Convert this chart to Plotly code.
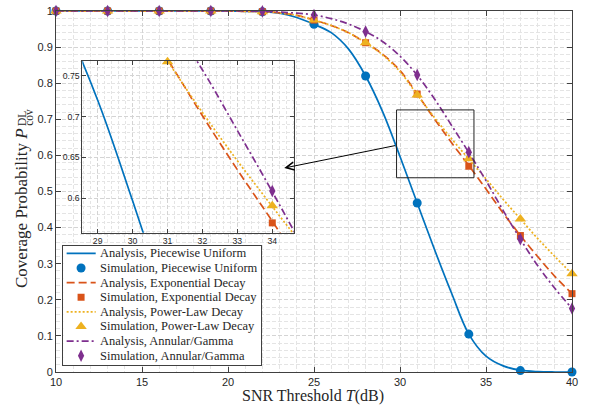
import plotly.graph_objects as go

# ---------------------------------------------------------------------------
# Data: downlink coverage probability vs. SNR threshold
# ---------------------------------------------------------------------------
snr_analysis = [10, 11, 12, 13, 14, 15, 16, 17, 18, 19, 20, 21, 22, 23, 24, 25,
                26, 27, 28, 29, 30, 31, 32, 33, 34, 35, 36, 37, 38, 39, 40]
snr_sim = [10, 13, 16, 19, 22, 25, 28, 31, 34, 37, 40]

pu_analysis = [1.0, 1.0, 1.0, 1.0, 1.0, 1.0, 1.0, 1.0, 1.0, 1.0, 1.0, 0.999,
               0.998, 0.994, 0.982, 0.963, 0.940, 0.895, 0.820, 0.720, 0.597,
               0.468, 0.340, 0.218, 0.105, 0.044, 0.017, 0.005, 0.001, 0.0, 0.0]
pu_sim = [1.0, 1.0, 1.0, 1.0, 0.998, 0.963, 0.820, 0.468, 0.105, 0.004, 0.0]

exp_analysis = [1.0, 1.0, 1.0, 1.0, 1.0, 1.0, 1.0, 1.0, 1.0, 1.0, 1.0, 0.999,
                0.998, 0.995, 0.988, 0.975, 0.960, 0.940, 0.912, 0.880, 0.835,
                0.770, 0.701, 0.635, 0.572, 0.507, 0.440, 0.378, 0.320, 0.265, 0.217]
exp_sim = [1.0, 1.0, 1.0, 1.0, 0.998, 0.975, 0.912, 0.770, 0.570, 0.378, 0.217]

pow_analysis = [1.0, 1.0, 1.0, 1.0, 1.0, 1.0, 1.0, 1.0, 1.0, 1.0, 1.0, 0.999,
                0.998, 0.995, 0.988, 0.975, 0.960, 0.940, 0.912, 0.878, 0.832,
                0.768, 0.705, 0.646, 0.590, 0.535, 0.478, 0.424, 0.370, 0.320, 0.272]
pow_sim = [1.0, 1.0, 1.0, 1.0, 0.998, 0.975, 0.912, 0.767, 0.591, 0.424, 0.272]

gam_analysis = [1.0, 1.0, 1.0, 1.0, 1.0, 1.0, 1.0, 1.0, 1.0, 1.0, 1.0, 1.0,
                0.999, 0.997, 0.994, 0.989, 0.979, 0.964, 0.943, 0.915, 0.875,
                0.822, 0.757, 0.683, 0.608, 0.530, 0.447, 0.368, 0.295, 0.232, 0.176]
gam_sim = [1.0, 1.0, 1.0, 1.0, 0.999, 0.989, 0.943, 0.823, 0.609, 0.368, 0.176]

model_names = ["Piecewise Uniform", "Exponential Decay", "Power-Law Decay", "Annular/Gamma"]
analysis_sets = [pu_analysis, exp_analysis, pow_analysis, gam_analysis]
sim_sets = [pu_sim, exp_sim, pow_sim, gam_sim]

# ---------------------------------------------------------------------------
# Styles
# ---------------------------------------------------------------------------
colors = ["#0072BD", "#D95319", "#EDB120", "#7E2F8E"]
dashes = ["solid", "8px,4px", "2px,2px", "7px,3px,2px,3px"]
symbols = ["circle", "square", "triangle-up", "diamond-tall"]
msizes = [9, 7, 10, 9]
LW = 1.7
TXT = "#262626"
AX = "#404040"
SANS = "Liberation Sans, Arial, sans-serif"
SERIF = "Liberation Serif, Times New Roman, serif"

# plot-area geometry (px) used to place free text in paper coordinates
W, H = 590, 406
ML, MR, MT, MB = 56, 18, 11, 34
PW, PH = W - ML - MR, H - MT - MB


def px_to_paper(px, py):
    return (px - ML) / PW, (H - MB - py) / PH


fig = go.Figure()

# Main axes (xy) and zoomed inset (x2y2)
for xa, ya in (("x", "y"), ("x2", "y2")):
    for k in range(4):
        fig.add_trace(go.Scatter(
            x=snr_analysis, y=analysis_sets[k], xaxis=xa, yaxis=ya,
            mode="lines", line=dict(color=colors[k], width=LW, dash=dashes[k],
                                    shape="spline", smoothing=1.0),
            showlegend=False, hoverinfo="skip"))
        fig.add_trace(go.Scatter(
            x=snr_sim, y=sim_sets[k], xaxis=xa, yaxis=ya,
            mode="markers", cliponaxis=False,
            marker=dict(color=colors[k], symbol=symbols[k], size=msizes[k],
                        line=dict(width=0)),
            showlegend=False, hoverinfo="skip"))

# Legend panel (x3y3): sample glyphs and labels
row_y = [0.936, 0.813, 0.690, 0.568, 0.445, 0.323, 0.200, 0.078]
for k in range(4):
    ya_line = row_y[2 * k]
    ya_mark = row_y[2 * k + 1]
    fig.add_trace(go.Scatter(
        x=[0.017, 0.164], y=[ya_line, ya_line], xaxis="x3", yaxis="y3",
        mode="lines", line=dict(color=colors[k], width=LW, dash=dashes[k]),
        showlegend=False, hoverinfo="skip"))
    fig.add_trace(go.Scatter(
        x=[0.09], y=[ya_mark], xaxis="x3", yaxis="y3", mode="markers",
        marker=dict(color=colors[k], symbol=symbols[k], size=msizes[k],
                    line=dict(width=0)),
        showlegend=False, hoverinfo="skip"))

annotations = []
for k in range(4):
    for j, prefix in enumerate(("Analysis", "Simulation")):
        annotations.append(dict(
            x=0.178, y=row_y[2 * k + j], xref="x3", yref="y3",
            text=f"{prefix}, {model_names[k]}", showarrow=False,
            xanchor="left", yanchor="middle",
            font=dict(family=SERIF, size=12.5, color=TXT)))

# Y-axis label with stacked super/subscript on P
for txt, cx, cy, fs in (("Coverage Probability <i>P</i>", 21, 208, 17),
                        ("DL", 21.5, 118.5, 11.5),
                        ("cov", 29.0, 117.8, 11.5)):
    px_, py_ = px_to_paper(cx, cy)
    annotations.append(dict(
        x=px_, y=py_, xref="paper", yref="paper", text=txt, textangle=-90,
        showarrow=False, xanchor="center", yanchor="middle",
        font=dict(family=SERIF, size=fs, color=TXT)))

# X-axis label
xl_x, xl_y = px_to_paper(313, 396.0)
annotations.append(dict(
    x=xl_x, y=xl_y, xref="paper", yref="paper",
    text="SNR Threshold <i>T</i>(dB)", showarrow=False, borderpad=0,
    xanchor="center", yanchor="middle",
    font=dict(family=SERIF, size=16, color=TXT)))

# Arrow from the zoom box to the inset
annotations.append(dict(
    x=23.27, y=0.565, xref="x", yref="y",
    ax=29.8, ay=0.628, axref="x", ayref="y",
    showarrow=True, arrowhead=5, arrowsize=1.6, arrowwidth=1,
    arrowcolor="black", text=""))

grid_major = dict(showgrid=True, gridcolor="#d4d4d4", griddash="4px,2px", gridwidth=1)

fig.update_layout(
    width=W, height=H,
    margin=dict(l=ML, r=MR, t=MT, b=MB, autoexpand=False),
    paper_bgcolor="white", plot_bgcolor="white",
    showlegend=False,
    annotations=annotations,
    shapes=[dict(type="rect", xref="x", yref="y", x0=29.8, x1=34.3,
                 y0=0.538, y1=0.726, line=dict(color="#222222", width=1),
                 layer="above")],
    xaxis=dict(
        range=[10, 40], tick0=10, dtick=5, domain=[0, 1], automargin=False,
        showline=True, linecolor=AX, linewidth=1, mirror="ticks",
        ticks="inside", ticklen=5, tickcolor=AX, ticklabelstandoff=0,
        tickfont=dict(family=SANS, size=11, color=TXT),
        zeroline=False, **grid_major,
        minor=dict(dtick=1, showgrid=True, gridcolor="#e4e4e4",
                   griddash="4px,2px", ticks="")),
    yaxis=dict(
        range=[0, 1], tick0=0, dtick=0.1, domain=[0, 1], automargin=False,
        showline=True, linecolor=AX, linewidth=1, mirror="ticks",
        ticks="inside", ticklen=5, tickcolor=AX,
        tickfont=dict(family=SANS, size=11, color=TXT),
        zeroline=False, **grid_major,
        minor=dict(dtick=0.02, showgrid=True, gridcolor="#e4e4e4",
                   griddash="4px,2px", ticks="")),
    xaxis2=dict(
        range=[28.56, 34.63], tick0=29, dtick=1, domain=[0.051, 0.4618],
        anchor="y2", automargin=False,
        showline=True, linecolor=AX, linewidth=1, mirror="ticks",
        ticks="inside", ticklen=4, tickcolor=AX,
        tickfont=dict(family=SANS, size=8.7, color=TXT),
        zeroline=False, **grid_major,
        minor=dict(dtick=0.2, showgrid=True, gridcolor="#e4e4e4",
                   griddash="3px,2px", ticks="")),
    yaxis2=dict(
        range=[0.558, 0.7683], tick0=0.6, dtick=0.05, domain=[0.3859, 0.8623],
        anchor="x2", automargin=False,
        showline=True, linecolor=AX, linewidth=1, mirror="ticks",
        ticks="inside", ticklen=4, tickcolor=AX,
        tickfont=dict(family=SANS, size=8.7, color=TXT),
        zeroline=False, **grid_major,
        minor=dict(dtick=0.01, showgrid=True, gridcolor="#e4e4e4",
                   griddash="3px,2px", ticks="")),
    xaxis3=dict(
        range=[0, 1], domain=[0.0141, 0.3973], anchor="y3", automargin=False,
        showline=True, linecolor=AX, linewidth=1, mirror=True,
        showgrid=False, zeroline=False, showticklabels=False, ticks=""),
    yaxis3=dict(
        range=[0, 1], domain=[0.0194, 0.3499], anchor="x3", automargin=False,
        showline=True, linecolor=AX, linewidth=1, mirror=True,
        showgrid=False, zeroline=False, showticklabels=False, ticks=""),
)

fig.write_html("out.html")
